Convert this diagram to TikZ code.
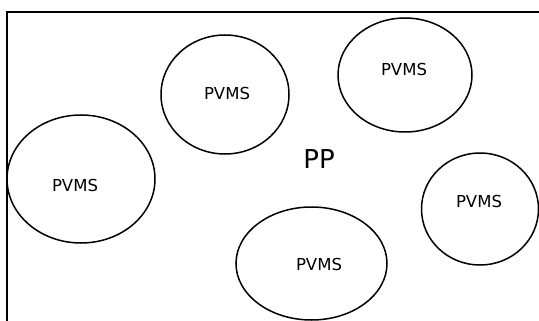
\documentclass[tikz,border=0pt]{standalone}
\usepackage{fontspec}
\setmainfont{DejaVu Sans}
\usetikzlibrary{shapes.geometric}
\tikzset{
  pvms/.style={ellipse, draw, line width=1.5pt, inner sep=0pt},
  lbl/.style={inner sep=0pt, font=\fontsize{16.5}{20}\selectfont},
  big/.style={inner sep=0pt, font=\fontsize{26}{30}\selectfont},
}
\begin{document}
\begin{tikzpicture}[x=1pt,y=-1pt]
\useasboundingbox (0,0) rectangle (539,321);
\clip (0,0) rectangle (539,321);
\draw[line width=2pt] (7,340) -- (7,12) -- (560,12);
\node[pvms, minimum width=128pt, minimum height=119pt] (e1) at (225,94.5) {};
\node[pvms, minimum width=134pt, minimum height=114pt] (e2) at (405,75) {};
\node[pvms, minimum width=148pt, minimum height=128pt] (e3) at (81,179) {};
\node[pvms, minimum width=151pt, minimum height=113pt] (e4) at (311.5,263.5) {};
\node[pvms, minimum width=117pt, minimum height=112pt] (e5) at (480,209) {};
\node[lbl] (t1) at (227,93) {PVMS};
\node[lbl] (t2) at (404,69) {PVMS};
\node[lbl] (t3) at (75,185) {PVMS};
\node[lbl] (t4) at (319,264.5) {PVMS};
\node[lbl] (t5) at (479,201) {PVMS};
\node[big] (pp) at (319,159) {PP};
\end{tikzpicture}
\end{document}
